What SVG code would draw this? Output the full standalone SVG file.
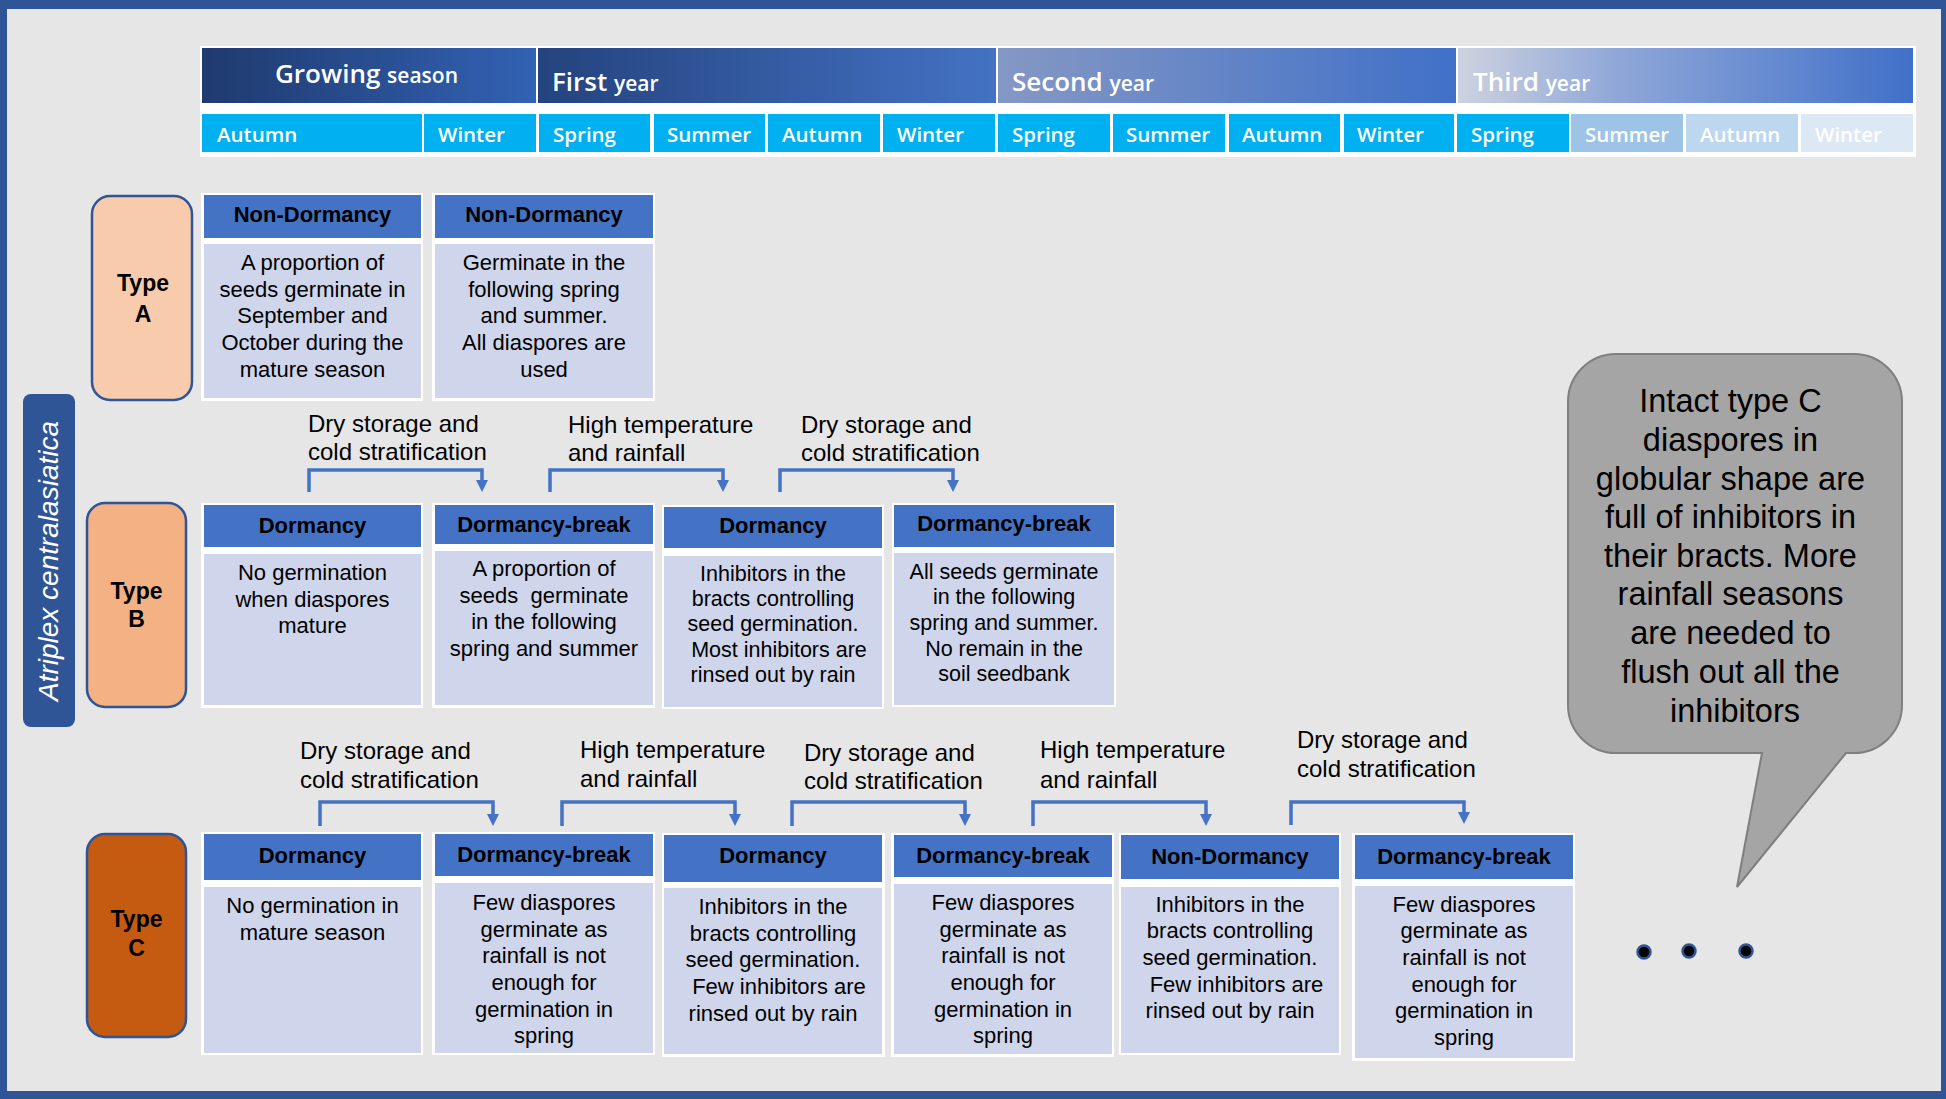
<svg xmlns="http://www.w3.org/2000/svg" width="1946" height="1099" viewBox="0 0 1946 1099">
<style>
.season{fill:#00b0f0}
.stxt{font-family:"Open Sans","Liberation Sans",sans-serif;font-weight:600;font-size:20.5px;fill:#fff}
.ybig{font-family:"Open Sans","Liberation Sans",sans-serif;font-weight:600;font-size:26px;fill:#fff}
.ysm{font-size:21px}
.outer{fill:#fff}
.hdr{fill:#4472c4}
.body{fill:#cfd5ea}
.ht{font-family:"Liberation Sans",Arial,sans-serif;font-weight:bold;font-size:22px;fill:#000;text-anchor:middle}
.bt{font-family:"Liberation Sans",Arial,sans-serif;font-size:22px;fill:#000;text-anchor:middle}
.bts{font-size:21.5px}
.lbl{font-family:"Liberation Sans",Arial,sans-serif;font-size:24px;fill:#000}
.type{font-family:"Liberation Sans",Arial,sans-serif;font-weight:bold;font-size:23px;fill:#000;text-anchor:middle}
.conn{fill:none;stroke:#4472c4;stroke-width:3.5;marker-end:url(#arr)}
</style>
<defs>
<marker id="arr" markerUnits="userSpaceOnUse" viewBox="0 0 12 12" refX="0" refY="6" markerWidth="12" markerHeight="12" orient="auto">
<path d="M0,0 L12,6 L0,12 Z" fill="#4472c4"/>
</marker>
<linearGradient id="gGrow" x1="0" y1="0" x2="1" y2="0"><stop offset="0" stop-color="#1f3a6e"/><stop offset="1" stop-color="#3262b4"/></linearGradient>
<linearGradient id="gFirst" x1="0" y1="0" x2="1" y2="0"><stop offset="0" stop-color="#24437e"/><stop offset="1" stop-color="#4472c4"/></linearGradient>
<linearGradient id="gSecond" x1="0" y1="0" x2="1" y2="0"><stop offset="0" stop-color="#8598c4"/><stop offset="1" stop-color="#4070c8"/></linearGradient>
<linearGradient id="gThird" x1="0" y1="0" x2="1" y2="0"><stop offset="0" stop-color="#cdd2df"/><stop offset="0.35" stop-color="#8fa7d8"/><stop offset="1" stop-color="#4070c8"/></linearGradient>
</defs>

<rect x="0" y="0" width="1946" height="1099" fill="#2f5597"/>
<rect x="7" y="9" width="1934" height="1082" fill="#e7e6e6"/>

<g id="timeline">
<rect x="200" y="46" width="1716" height="111" fill="#fff"/>
<rect x="202" y="48" width="334" height="55" fill="url(#gGrow)"/>
<rect x="538" y="48" width="458" height="55" fill="url(#gFirst)"/>
<rect x="998" y="48" width="458" height="55" fill="url(#gSecond)"/>
<rect x="1458" y="48" width="455" height="55" fill="url(#gThird)"/>
<text class="ybig" x="275" y="83">Growing <tspan class="ysm">season</tspan></text>
<text class="ybig" x="552" y="90.5">First <tspan class="ysm">year</tspan></text>
<text class="ybig" x="1012" y="90.5">Second <tspan class="ysm">year</tspan></text>
<text class="ybig" x="1473" y="90.5">Third <tspan class="ysm">year</tspan></text>

<rect class="season" x="202" y="114" width="220" height="38"/>
<rect class="season" x="424" y="114" width="112" height="38"/>
<rect class="season" x="539" y="114" width="111" height="38"/>
<rect class="season" x="654" y="114" width="111" height="38"/>
<rect class="season" x="768" y="114" width="112" height="38"/>
<rect class="season" x="883" y="114" width="112" height="38"/>
<rect class="season" x="998" y="114" width="112" height="38"/>
<rect class="season" x="1113" y="114" width="112" height="38"/>
<rect class="season" x="1229" y="114" width="111" height="38"/>
<rect class="season" x="1344" y="114" width="110" height="38"/>
<rect class="season" x="1457" y="114" width="112" height="38"/>
<rect x="1571" y="114" width="112" height="38" fill="#9dc3e6"/>
<rect x="1686" y="114" width="112" height="38" fill="#bdd7ee"/>
<rect x="1801" y="114" width="112" height="38" fill="#dde8f5"/>
<text class="stxt" x="217" y="141.5">Autumn</text>
<text class="stxt" x="438" y="141.5">Winter</text>
<text class="stxt" x="553" y="141.5">Spring</text>
<text class="stxt" x="667" y="141.5">Summer</text>
<text class="stxt" x="782" y="141.5">Autumn</text>
<text class="stxt" x="897" y="141.5">Winter</text>
<text class="stxt" x="1012" y="141.5">Spring</text>
<text class="stxt" x="1126" y="141.5">Summer</text>
<text class="stxt" x="1242" y="141.5">Autumn</text>
<text class="stxt" x="1357" y="141.5">Winter</text>
<text class="stxt" x="1471" y="141.5">Spring</text>
<text class="stxt" x="1585" y="141.5">Summer</text>
<text class="stxt" x="1700" y="141.5">Autumn</text>
<text class="stxt" x="1815" y="141.5">Winter</text>
</g>

<g id="species">
<rect x="23" y="394" width="52" height="333" rx="8" fill="#2f5597"/>
<text transform="translate(57.5,561) rotate(-90)" text-anchor="middle" font-family="Liberation Sans, Arial, sans-serif" font-style="italic" font-size="28" fill="#fff">Atriplex centralasiatica</text>
</g>

<g id="typeA">
<rect x="92" y="196" width="100" height="204" rx="18" fill="#f8cbad" stroke="#2f5597" stroke-width="2.5"/>
<text class="type" x="143" y="290.5">Type</text>
<text class="type" x="143" y="321.5">A</text>
</g>
<g id="typeB">
<rect x="87" y="503" width="99" height="204" rx="18" fill="#f4b183" stroke="#2f5597" stroke-width="2.5"/>
<text class="type" x="136.5" y="599">Type</text>
<text class="type" x="136.5" y="627">B</text>
</g>
<g id="typeC">
<rect x="87" y="834" width="99" height="203" rx="18" fill="#c55a11" stroke="#2f5597" stroke-width="2.5"/>
<text class="type" x="136.5" y="927">Type</text>
<text class="type" x="136.5" y="956">C</text>
</g>

<g id="A1">
<rect class="outer" x="201" y="193" width="222" height="208"/>
<rect class="hdr" x="204" y="195" width="217" height="43"/>
<rect class="body" x="204" y="244" width="217" height="154"/>
<text class="ht" x="312.5" y="221.5">Non-Dormancy</text>
<text class="bt" x="312.5" y="270">A proportion of</text>
<text class="bt" x="312.5" y="296.7">seeds germinate in</text>
<text class="bt" x="312.5" y="323.3">September and</text>
<text class="bt" x="312.5" y="350">October during the</text>
<text class="bt" x="312.5" y="376.7">mature season</text>
</g>
<g id="A2">
<rect class="outer" x="432" y="193" width="223" height="208"/>
<rect class="hdr" x="435" y="195" width="218" height="43"/>
<rect class="body" x="435" y="244" width="218" height="154"/>
<text class="ht" x="544" y="221.5">Non-Dormancy</text>
<text class="bt" x="544" y="270">Germinate in the</text>
<text class="bt" x="544" y="296.7">following spring</text>
<text class="bt" x="544" y="323.3">and summer.</text>
<text class="bt" x="544" y="350">All diaspores are</text>
<text class="bt" x="544" y="376.7">used</text>
</g>

<g id="B1">
<rect class="outer" x="201" y="503" width="222" height="205"/>
<rect class="hdr" x="204" y="505" width="217" height="42"/>
<rect class="body" x="204" y="554" width="217" height="151"/>
<text class="ht" x="312.5" y="533">Dormancy</text>
<text class="bt" x="312.5" y="580">No germination</text>
<text class="bt" x="312.5" y="606.7">when diaspores</text>
<text class="bt" x="312.5" y="633.3">mature</text>
</g>
<g id="B2">
<rect class="outer" x="432" y="503" width="223" height="205"/>
<rect class="hdr" x="435" y="505" width="218" height="39"/>
<rect class="body" x="435" y="551" width="218" height="154"/>
<text class="ht" x="544" y="531.7">Dormancy-break</text>
<text class="bt" x="544" y="576">A proportion of</text>
<text class="bt" x="544" y="602.7" xml:space="preserve">seeds  germinate</text>
<text class="bt" x="544" y="629.3">in the following</text>
<text class="bt" x="544" y="656">spring and summer</text>
</g>
<g id="B3">
<rect class="outer" x="662" y="505" width="222" height="204"/>
<rect class="hdr" x="664" y="507" width="218" height="41"/>
<rect class="body" x="664" y="556" width="218" height="151"/>
<text class="ht" x="773" y="533">Dormancy</text>
<text class="bt bts" x="773" y="580.7">Inhibitors in the</text>
<text class="bt bts" x="773" y="606">bracts controlling</text>
<text class="bt bts" x="773" y="631">seed germination.</text>
<text class="bt bts" x="779" y="656.5">Most inhibitors are</text>
<text class="bt bts" x="773" y="682">rinsed out by rain</text>
</g>
<g id="B4">
<rect class="outer" x="892" y="503" width="224" height="204"/>
<rect class="hdr" x="894" y="505" width="220" height="42"/>
<rect class="body" x="894" y="553" width="220" height="152"/>
<text class="ht" x="1004" y="531">Dormancy-break</text>
<text class="bt bts" x="1004" y="578.7">All seeds germinate</text>
<text class="bt bts" x="1004" y="604.3">in the following</text>
<text class="bt bts" x="1004" y="630">spring and summer.</text>
<text class="bt bts" x="1004" y="655.7">No remain in the</text>
<text class="bt bts" x="1004" y="681">soil seedbank</text>
</g>

<g id="C1">
<rect class="outer" x="201" y="832" width="222" height="223"/>
<rect class="hdr" x="204" y="834" width="217" height="46"/>
<rect class="body" x="204" y="887" width="217" height="166"/>
<text class="ht" x="312.5" y="862.7">Dormancy</text>
<text class="bt" x="312.5" y="912.7">No germination in</text>
<text class="bt" x="312.5" y="940">mature season</text>
</g>
<g id="C2">
<rect class="outer" x="432" y="832" width="223" height="223"/>
<rect class="hdr" x="435" y="834" width="218" height="42"/>
<rect class="body" x="435" y="883" width="218" height="170"/>
<text class="ht" x="544" y="862">Dormancy-break</text>
<text class="bt" x="544" y="910">Few diaspores</text>
<text class="bt" x="544" y="936.7">germinate as</text>
<text class="bt" x="544" y="963.3">rainfall is not</text>
<text class="bt" x="544" y="990">enough for</text>
<text class="bt" x="544" y="1016.7">germination in</text>
<text class="bt" x="544" y="1043.3">spring</text>
</g>
<g id="C3">
<rect class="outer" x="662" y="833" width="223" height="224"/>
<rect class="hdr" x="664" y="835" width="218" height="47"/>
<rect class="body" x="664" y="888" width="218" height="166"/>
<text class="ht" x="773" y="863">Dormancy</text>
<text class="bt" x="773" y="914">Inhibitors in the</text>
<text class="bt" x="773" y="940.7">bracts controlling</text>
<text class="bt" x="773" y="967.3">seed germination.</text>
<text class="bt" x="779" y="994">Few inhibitors are</text>
<text class="bt" x="773" y="1020.7">rinsed out by rain</text>
</g>
<g id="C4">
<rect class="outer" x="891" y="833" width="223" height="224"/>
<rect class="hdr" x="894" y="835" width="218" height="42"/>
<rect class="body" x="894" y="884" width="218" height="170"/>
<text class="ht" x="1003" y="862.7">Dormancy-break</text>
<text class="bt" x="1003" y="910">Few diaspores</text>
<text class="bt" x="1003" y="936.7">germinate as</text>
<text class="bt" x="1003" y="963.3">rainfall is not</text>
<text class="bt" x="1003" y="990">enough for</text>
<text class="bt" x="1003" y="1016.7">germination in</text>
<text class="bt" x="1003" y="1043.3">spring</text>
</g>
<g id="C5">
<rect class="outer" x="1119" y="833" width="222" height="222"/>
<rect class="hdr" x="1121" y="835" width="218" height="44"/>
<rect class="body" x="1121" y="887" width="218" height="166"/>
<text class="ht" x="1230" y="864">Non-Dormancy</text>
<text class="bt" x="1230" y="911.7">Inhibitors in the</text>
<text class="bt" x="1230" y="938.3">bracts controlling</text>
<text class="bt" x="1230" y="965">seed germination.</text>
<text class="bt" x="1236.5" y="991.7">Few inhibitors are</text>
<text class="bt" x="1230" y="1018.3">rinsed out by rain</text>
</g>
<g id="C6">
<rect class="outer" x="1352" y="833" width="223" height="228"/>
<rect class="hdr" x="1355" y="835" width="218" height="44"/>
<rect class="body" x="1355" y="886" width="218" height="172"/>
<text class="ht" x="1464" y="864">Dormancy-break</text>
<text class="bt" x="1464" y="911.7">Few diaspores</text>
<text class="bt" x="1464" y="938.3">germinate as</text>
<text class="bt" x="1464" y="965">rainfall is not</text>
<text class="bt" x="1464" y="991.7">enough for</text>
<text class="bt" x="1464" y="1018.3">germination in</text>
<text class="bt" x="1464" y="1045">spring</text>
</g>

<g id="connectors">
<path class="conn" d="M309 492 V470 H482 V480"/>
<path class="conn" d="M550 492 V470 H723 V480"/>
<path class="conn" d="M780 492 V470 H953 V480"/>
<path class="conn" d="M320 826 V802 H493 V814"/>
<path class="conn" d="M562 826 V802 H735 V814"/>
<path class="conn" d="M792 826 V802 H965 V814"/>
<path class="conn" d="M1033 826 V802 H1206 V814"/>
<path class="conn" d="M1291 825 V802 H1464 V812"/>
</g>

<g id="labels">
<text class="lbl" x="308" y="432"><tspan x="308">Dry storage and</tspan><tspan x="308" y="460">cold stratification</tspan></text>
<text class="lbl" x="568" y="432.5"><tspan x="568">High temperature</tspan><tspan x="568" y="461">and rainfall</tspan></text>
<text class="lbl" x="801" y="432.7"><tspan x="801">Dry storage and</tspan><tspan x="801" y="461">cold stratification</tspan></text>
<text class="lbl" x="300" y="759"><tspan x="300">Dry storage and</tspan><tspan x="300" y="788">cold stratification</tspan></text>
<text class="lbl" x="580" y="758"><tspan x="580">High temperature</tspan><tspan x="580" y="787">and rainfall</tspan></text>
<text class="lbl" x="804" y="760.5"><tspan x="804">Dry storage and</tspan><tspan x="804" y="789">cold stratification</tspan></text>
<text class="lbl" x="1040" y="758"><tspan x="1040">High temperature</tspan><tspan x="1040" y="787.5">and rainfall</tspan></text>
<text class="lbl" x="1297" y="748"><tspan x="1297">Dry storage and</tspan><tspan x="1297" y="777">cold stratification</tspan></text>
</g>

<g id="callout">
<path d="M1616,354 H1854 A48,48 0 0 1 1902,402 V705 A48,48 0 0 1 1854,753 H1846 L1737,887 L1762,753 H1616 A48,48 0 0 1 1568,705 V402 A48,48 0 0 1 1616,354 Z" fill="#a5a5a5" stroke="#7f7f7f" stroke-width="2"/>
<text font-family="Liberation Sans, Arial, sans-serif" font-size="32.5" fill="#000" text-anchor="middle">
<tspan x="1735" y="412">Intact type C</tspan>
<tspan x="1735" y="451">diaspores in</tspan>
<tspan x="1735" y="489.5">globular shape are</tspan>
<tspan x="1735" y="528">full of inhibitors in</tspan>
<tspan x="1735" y="566.5">their bracts. More</tspan>
<tspan x="1735" y="605">rainfall seasons</tspan>
<tspan x="1735" y="644">are needed to</tspan>
<tspan x="1735" y="683">flush out all the</tspan>
<tspan x="1735" y="722">inhibitors</tspan>
</text>
</g>

<g id="ellipsis" fill="#000" stroke="#2f5597" stroke-width="2.5">
<circle cx="1644" cy="952" r="6.5"/>
<circle cx="1689" cy="951" r="6.5"/>
<circle cx="1746" cy="951" r="6.5"/>
</g>
</svg>
